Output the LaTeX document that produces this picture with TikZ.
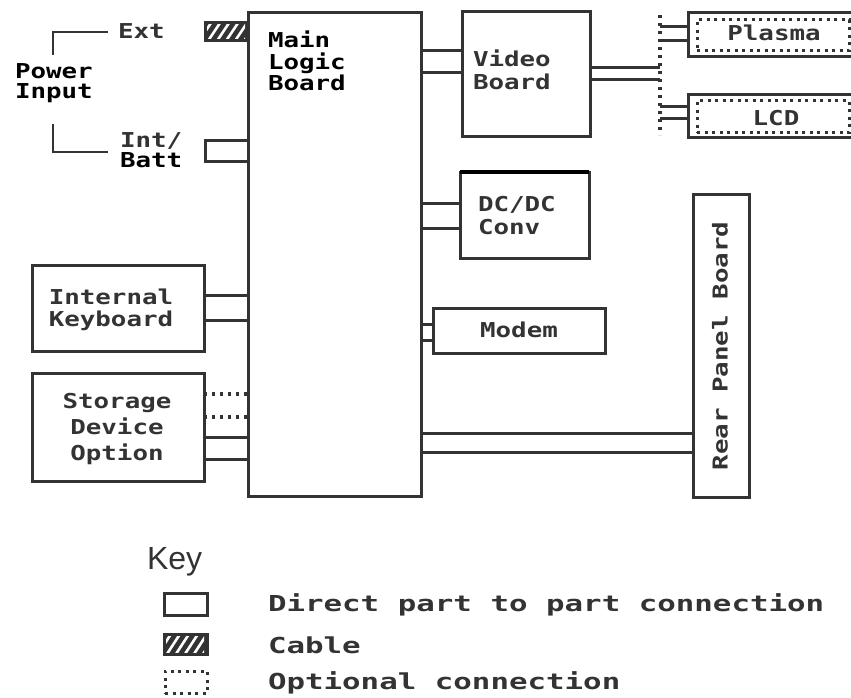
\documentclass[tikz,border=0pt]{standalone}
\usepackage{fontspec}
\newfontfamily\dmfont[FakeStretch=1.26]{DejaVu Sans Mono}
\newfontfamily\lgfont[FakeStretch=1.4]{DejaVu Sans Mono}
\newfontfamily\keyfont{Liberation Sans}
\usetikzlibrary{calc}
\definecolor{ink}{HTML}{333333}
\begin{document}
\begin{tikzpicture}[x=1pt,y=-1pt,
  every node/.style={inner sep=0pt, outer sep=0pt},
  box/.style={draw=ink, line width=3pt, rectangle, anchor=north west, fill=white},
  wire/.style={draw=ink, line width=3pt},
  optwire/.style={draw=ink, line width=3.2pt, dash pattern=on 3pt off 5pt},
  dotbox/.style={draw=ink, line width=3pt, dash pattern=on 3pt off 4.5pt, rectangle, anchor=north west},
  mono/.style={font=\dmfont\bfseries\fontsize{20.5}{#1}\selectfont, text=ink},
  mono/.default=22,
  legend/.style={font=\lgfont\bfseries\fontsize{22}{24}\selectfont, text=ink, anchor=west},
  stripes/.style={white, line width=2.6pt}]
\useasboundingbox (0,0) rectangle (851,698);
\fill[white] (0,0) rectangle (851,698);

% ---------------- boxes
\node[box, minimum width=173pt, minimum height=483pt] (mlb) at (248,13) {};
\node[box, fill=ink, minimum width=43pt, minimum height=18pt] (ext) at (205,23) {};
\node[box, minimum width=43pt, minimum height=20pt] (intc) at (205,141) {};
\node[box, minimum width=128pt, minimum height=125pt] (vid) at (462,12) {};
\node[box, minimum width=190pt, minimum height=44pt] (pls) at (688,13) {};
\node[dotbox, minimum width=152pt, minimum height=31pt] (plsin) at (697,20) {};
\node[box, minimum width=190pt, minimum height=43pt] (lcd) at (688,95) {};
\node[dotbox, minimum width=152pt, minimum height=32pt] (lcdin) at (697,101) {};
\node[box, minimum width=129pt, minimum height=86pt] (dcdc) at (460,172) {};
\node[box, minimum width=172pt, minimum height=45pt] (modem) at (433,308) {};
\node[box, minimum width=56pt, minimum height=303pt] (rear) at (693,194) {};
\node[box, minimum width=172pt, minimum height=86pt] (kbd) at (32,265) {};
\node[box, minimum width=172pt, minimum height=108pt] (stor) at (32,373) {};

% thick top edge of DC/DC
\draw[black, line width=4.5pt] (dcdc.north west) -- (dcdc.north east);

% cable hatching
\begin{scope}
  \clip ($(ext.south west)+(2,-2)$) rectangle ($(ext.north east)+(-3,2)$);
  \foreach \i in {0,...,6} \draw[stripes] ($(ext.south west)+(\i*9-6,0)$) -- ++(12,-18);
\end{scope}

% ---------------- power input bracket
\coordinate (pwtop) at (108,32);
\coordinate (pwbot) at (108,152);
\draw[wire, line width=2.6pt] (pwtop) -- (53,32) -- (53,55);
\draw[wire, line width=2.6pt] (53,124) -- (53,152) -- (pwbot);

% ---------------- connectors (pairs of lines)
\draw[wire] (mlb.east |- 0,51) -- (vid.west |- 0,51);
\draw[wire] (mlb.east |- 0,73) -- (vid.west |- 0,73);

\coordinate (bustop) at (660,15);
\coordinate (busbot) at (660,135);
\draw[optwire] (bustop) -- (busbot);
\draw[wire] (vid.east |- 0,68) -- (bustop |- 0,68);
\draw[wire] (vid.east |- 0,80) -- (bustop |- 0,80);
\draw[wire] (bustop |- 0,27) -- (pls.west |- 0,27);
\draw[wire] (bustop |- 0,41) -- (pls.west |- 0,41);
\draw[wire] (bustop |- 0,107) -- (lcd.west |- 0,107);
\draw[wire] (bustop |- 0,119) -- (lcd.west |- 0,119);

\draw[wire] (mlb.east |- 0,203) -- (dcdc.west |- 0,203);
\draw[wire] (mlb.east |- 0,228) -- (dcdc.west |- 0,228);
\draw[wire] (mlb.east |- 0,324) -- (modem.west |- 0,324);
\draw[wire] (mlb.east |- 0,340) -- (modem.west |- 0,340);
\draw[wire] (mlb.east |- 0,433) -- (rear.west |- 0,433);
\draw[wire] (mlb.east |- 0,452) -- (rear.west |- 0,452);

\draw[wire] (kbd.east |- 0,295) -- (mlb.west |- 0,295);
\draw[wire] (kbd.east |- 0,320) -- (mlb.west |- 0,320);
\draw[optwire] (stor.east |- 0,394) -- (mlb.west |- 0,394);
\draw[optwire] (stor.east |- 0,417) -- (mlb.west |- 0,417);
\draw[wire] (stor.east |- 0,437) -- (mlb.west |- 0,437);
\draw[wire] (stor.east |- 0,459) -- (mlb.west |- 0,459);

% ---------------- labels
\node[mono=21.5, text=black, align=left, anchor=north west] (mlbtxt) at (268,31) {Main\\Logic\\Board};
\node[mono=20, text=black, align=left, anchor=north west] (powtxt) at (15,64) {Power\\Input};
\node[mono, anchor=north west] (exttxt) at (118,24) {Ext};
\node[mono=20, align=left, anchor=north west] (inttxt) at (120,133) {Int/\\\textcolor{black}{Batt}};
\node[mono=23, align=left, anchor=north west] (vidtxt) at (473,50) {Video\\Board};
\node[mono] (plstxt) at (774,33) {Plasma};
\node[mono] (lcdtxt) at (776,118) {LCD};
\node[mono=23, align=left, anchor=north west] (dctxt) at (478,196) {DC/DC\\Conv};
\node[mono] (modtxt) at (519,330) {Modem};
\node[mono, rotate=90] (reartxt) at (720,346) {Rear Panel Board};
\node[mono=22, align=center, anchor=north] (kbdtxt) at (111,289) {Internal\\Keyboard};
\node[mono=26, align=center, anchor=north] (sttxt) at (117,393) {Storage\\Device\\Option};

% ---------------- key
\node[font=\keyfont\fontsize{32}{34}\selectfont, text=ink, anchor=base west] (keytxt) at (147,569) {Key};
\node[box, minimum width=43pt, minimum height=22pt, line width=3pt] (k1) at (164,593) {};
\node[box, fill=ink, minimum width=43pt, minimum height=20pt, line width=3pt] (k2) at (164,634) {};
\begin{scope}
  \clip ($(k2.south west)+(2,-2)$) rectangle ($(k2.north east)+(-3,2)$);
  \foreach \i in {0,...,6} \draw[stripes] ($(k2.south west)+(\i*9-6,0)$) -- ++(13,-20);
\end{scope}
\node[dotbox, minimum width=42pt, minimum height=22pt] (k3) at (165,671) {};
\node[legend] (l1) at (268,605) {Direct part to part connection};
\node[legend] (l2) at (268,645) {Cable};
\node[legend] (l3) at (268,683) {Optional connection};
\end{tikzpicture}
\end{document}
